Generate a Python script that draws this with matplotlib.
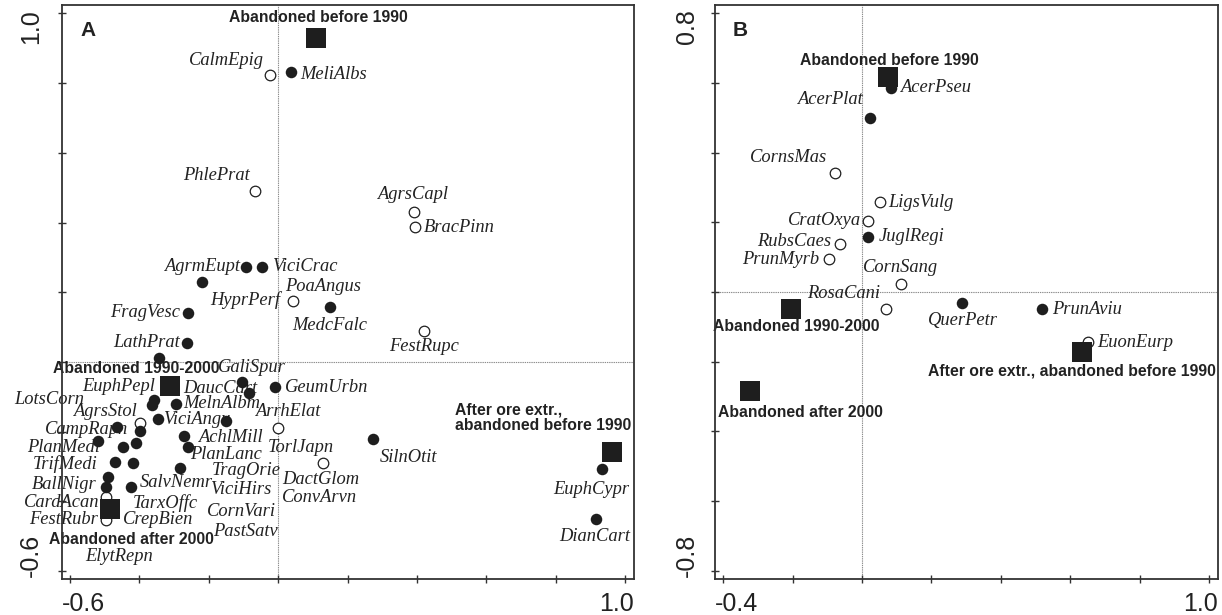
import matplotlib
matplotlib.use('Agg')
import matplotlib.pyplot as plt

# ---------------- panel A (herb layer) ----------------
# species scores, filled = one group, open = the other
a_filled_x = [0.037, -0.093, -0.047, -0.221, 0.149, -0.261, -0.264, -0.343,
              -0.103, -0.084, -0.010, -0.358, -0.365, -0.295, -0.345, -0.399,
              -0.464, -0.519, -0.448, -0.410, -0.271, -0.259, -0.471, -0.418,
              -0.283, -0.490, -0.495, -0.425, -0.151, 0.274, 0.934, 0.915]
a_filled_y = [0.832, 0.273, 0.273, 0.229, 0.159, 0.141, 0.055, 0.011,
              -0.057, -0.090, -0.073, -0.109, -0.123, -0.120, -0.164, -0.197,
              -0.187, -0.226, -0.245, -0.231, -0.212, -0.243, -0.286, -0.289,
              -0.305, -0.331, -0.358, -0.358, -0.169, -0.222, -0.308, -0.450]
a_open_x = [-0.024, -0.067, 0.391, 0.395, 0.043, 0.420, -0.399, -0.495,
            -0.497, -0.002, 0.130]
a_open_y = [0.823, 0.491, 0.431, 0.388, 0.175, 0.090, -0.176, -0.386,
            -0.453, -0.190, -0.291]
# site (sample group) centroids
a_site_x = [0.109, -0.312, -0.485, 0.961]
a_site_y = [0.929, -0.069, -0.423, -0.257]

# label placement (x, y, horizontal alignment)
a_species_labels = {
    'CalmEpig': (-0.041, 0.866, 'right'), 'MeliAlbs': (0.063, 0.826, 'left'),
    'PhlePrat': (-0.082, 0.536, 'right'), 'AgrsCapl': (0.388, 0.479, 'center'),
    'BracPinn': (0.420, 0.387, 'left'), 'AgrmEupt': (-0.110, 0.273, 'right'),
    'ViciCrac': (-0.018, 0.273, 'left'), 'PoaAngus': (0.019, 0.216, 'left'),
    'HyprPerf': (0.005, 0.178, 'right'), 'MedcFalc': (0.149, 0.106, 'center'),
    'FragVesc': (-0.283, 0.143, 'right'), 'LathPrat': (-0.283, 0.057, 'right'),
    'FestRupc': (0.420, 0.043, 'center'), 'GaliSpur': (-0.174, -0.017, 'left'),
    'DaucCart': (-0.275, -0.075, 'left'), 'GeumUrbn': (0.019, -0.072, 'left'),
    'EuphPepl': (-0.355, -0.069, 'right'), 'LotsCorn': (-0.560, -0.109, 'right'),
    'MelnAlbm': (-0.275, -0.118, 'left'), 'ArrhElat': (-0.067, -0.143, 'left'),
    'AgrsStol': (-0.407, -0.141, 'right'), 'ViciAngu': (-0.332, -0.164, 'left'),
    'CampRapn': (-0.433, -0.195, 'right'), 'PlanMedi': (-0.514, -0.244, 'right'),
    'TrifMedi': (-0.520, -0.293, 'right'), 'BallNigr': (-0.522, -0.350, 'right'),
    'CardAcan': (-0.514, -0.404, 'right'), 'FestRubr': (-0.520, -0.453, 'right'),
    'AchlMill': (-0.231, -0.218, 'left'), 'PlanLanc': (-0.254, -0.264, 'left'),
    'TragOrie': (-0.191, -0.310, 'left'), 'SalvNemr': (-0.399, -0.347, 'left'),
    'ViciHirs': (-0.197, -0.367, 'left'), 'TarxOffc': (-0.419, -0.404, 'left'),
    'CornVari': (-0.205, -0.430, 'left'), 'CrepBien': (-0.448, -0.453, 'left'),
    'PastSatv': (-0.188, -0.485, 'left'), 'ElytRepn': (-0.459, -0.559, 'center'),
    'TorlJapn': (-0.030, -0.244, 'left'), 'DactGlom': (0.011, -0.338, 'left'),
    'ConvArvn': (0.011, -0.390, 'left'), 'SilnOtit': (0.293, -0.273, 'left'),
    'EuphCypr': (0.792, -0.367, 'left'), 'DianCart': (0.809, -0.502, 'left'),
}
a_site_labels = {
    'Abandoned before 1990': (0.117, 0.987, 'center'),
    'Abandoned 1990-2000': (-0.410, -0.020, 'center'),
    'Abandoned after 2000': (-0.424, -0.508, 'center'),
    'After ore extr.,\nabandoned before 1990': (0.509, -0.161, 'left'),
}

# ---------------- panel B (shrub/tree layer) ----------------
b_filled_x = [0.084, 0.022, 0.018, 0.288, 0.520]
b_filled_y = [0.585, 0.500, 0.159, -0.031, -0.049]
b_open_x = [-0.079, 0.051, 0.018, -0.063, -0.096, 0.111, 0.068, 0.652]
b_open_y = [0.342, 0.257, 0.204, 0.138, 0.094, 0.023, -0.049, -0.144]
b_site_x = [0.075, -0.206, -0.322, 0.633]
b_site_y = [0.617, -0.049, -0.283, -0.173]

b_species_labels = {
    'AcerPseu': (0.109, 0.585, 'left'), 'AcerPlat': (0.003, 0.551, 'right'),
    'CornsMas': (-0.101, 0.387, 'right'), 'LigsVulg': (0.075, 0.258, 'left'),
    'CratOxya': (-0.003, 0.206, 'right'), 'JuglRegi': (0.048, 0.158, 'left'),
    'RubsCaes': (-0.089, 0.144, 'right'), 'PrunMyrb': (-0.124, 0.092, 'right'),
    'CornSang': (0.003, 0.071, 'left'), 'RosaCani': (0.053, -0.004, 'right'),
    'QuerPetr': (0.291, -0.082, 'center'), 'PrunAviu': (0.548, -0.050, 'left'),
    'EuonEurp': (0.677, -0.145, 'left'),
}
b_site_labels = {
    'Abandoned before 1990': (0.080, 0.665, 'center'),
    'Abandoned 1990-2000': (-0.429, -0.100, 'left'),
    'After ore extr., abandoned before 1990': (1.020, -0.227, 'right'),
    'Abandoned after 2000': (-0.176, -0.346, 'center'),
}

a_xticks = [-0.6, -0.4, -0.2, 0.0, 0.2, 0.4, 0.6, 0.8, 1.0]
a_yticks = [-0.6, -0.4, -0.2, 0.0, 0.2, 0.4, 0.6, 0.8, 1.0]
b_xticks = [-0.4, -0.2, 0.0, 0.2, 0.4, 0.6, 0.8, 1.0]
b_yticks = [-0.8, -0.6, -0.4, -0.2, 0.0, 0.2, 0.4, 0.6, 0.8]

INK = '#1e1e1e'
SPECIES_FONT = dict(family='Liberation Serif', style='italic', size=13.3, color='#222222')
SITE_FONT = dict(family='Liberation Sans', weight='bold', size=11.3, color='#222222')
TICK_FONT = dict(family='Liberation Sans', size=18, color='#222222')


def draw_panel(ax, letter, fx, fy, ox, oy, sx, sy, sp_labels, site_labels,
               xticks, yticks, xlim, ylim, ylab_gap):
    """
    Draw one ordination diagram.
    """
    ax.set_xlim(xlim)
    ax.set_ylim(ylim)
    ax.axhline(0, color='#8c8c8c', lw=0.8, ls=(0, (1.2, 0.8)), zorder=1)
    ax.axvline(0, color='#8c8c8c', lw=0.8, ls=(0, (1.2, 0.8)), zorder=1)

    for name, (lx, ly, ha) in sp_labels.items():
        ax.text(lx, ly, name, ha=ha, va='center', zorder=2, **SPECIES_FONT)
    for name, (lx, ly, ha) in site_labels.items():
        ax.text(lx, ly, name, ha=ha, va='center', zorder=2, linespacing=1.05,
                **SITE_FONT)

    ax.plot(ox, oy, 'o', ms=7.6, mfc='white', mec=INK, mew=0.9, ls='none', zorder=3)
    ax.plot(fx, fy, 'o', ms=8.3, mfc=INK, mec=INK, mew=0, ls='none', zorder=3)
    ax.plot(sx, sy, 's', ms=14.4, mfc=INK, mec=INK, mew=0, ls='none', zorder=4)

    ax.set_xticks(xticks)
    ax.set_yticks(yticks)
    ax.set_xticklabels([])
    ax.set_yticklabels([])
    ax.tick_params(direction='inout', length=6, width=1.0, color='#333333')
    for sp in ax.spines.values():
        sp.set_color('#333333')
        sp.set_linewidth(1.3)

    # axis end labels, CanoDraw style: flush with the frame corners
    fx0 = f'{xticks[0]:.1f}'
    fx1 = f'{xticks[-1]:.1f}'
    fy0 = f'{yticks[0]:.1f}'
    fy1 = f'{yticks[-1]:.1f}'
    ax.annotate(fx0, xy=(0, 0), xycoords='axes fraction', xytext=(0, -13),
                textcoords='offset pixels', ha='left', va='top', **TICK_FONT)
    ax.annotate(fx1, xy=(1, 0), xycoords='axes fraction', xytext=(0, -13),
                textcoords='offset pixels', ha='right', va='top', **TICK_FONT)
    ax.annotate(fy1, xy=(0, 1), xycoords='axes fraction', xytext=(-ylab_gap, -4),
                textcoords='offset pixels', ha='right', va='top', rotation=90,
                **TICK_FONT)
    ax.annotate(fy0, xy=(0, 0), xycoords='axes fraction', xytext=(-ylab_gap, 2),
                textcoords='offset pixels', ha='right', va='bottom', rotation=90,
                **TICK_FONT)

    ax.annotate(letter, xy=(0, 1), xycoords='axes fraction', xytext=(18, -16),
                textcoords='offset pixels', ha='left', va='top',
                family='Liberation Sans', weight='bold', size=15, color='#222222')


def main():
    fig = plt.figure(figsize=(12.22, 6.15), dpi=100)
    ax_a = fig.add_axes([62 / 1222, 1 - 579 / 615, 572 / 1222, 574 / 615])
    ax_b = fig.add_axes([715 / 1222, 1 - 579 / 615, 503 / 1222, 574 / 615])

    draw_panel(ax_a, 'A', a_filled_x, a_filled_y, a_open_x, a_open_y,
               a_site_x, a_site_y, a_species_labels, a_site_labels,
               a_xticks, a_yticks, (-0.623, 1.025), (-0.6225, 1.024), 19)
    draw_panel(ax_b, 'B', b_filled_x, b_filled_y, b_open_x, b_open_y,
               b_site_x, b_site_y, b_species_labels, b_site_labels,
               b_xticks, b_yticks, (-0.4236, 1.026), (-0.823, 0.823), 16)

    fig.savefig('out.png', dpi=100, facecolor='white')


if __name__ == "__main__":
    main()
